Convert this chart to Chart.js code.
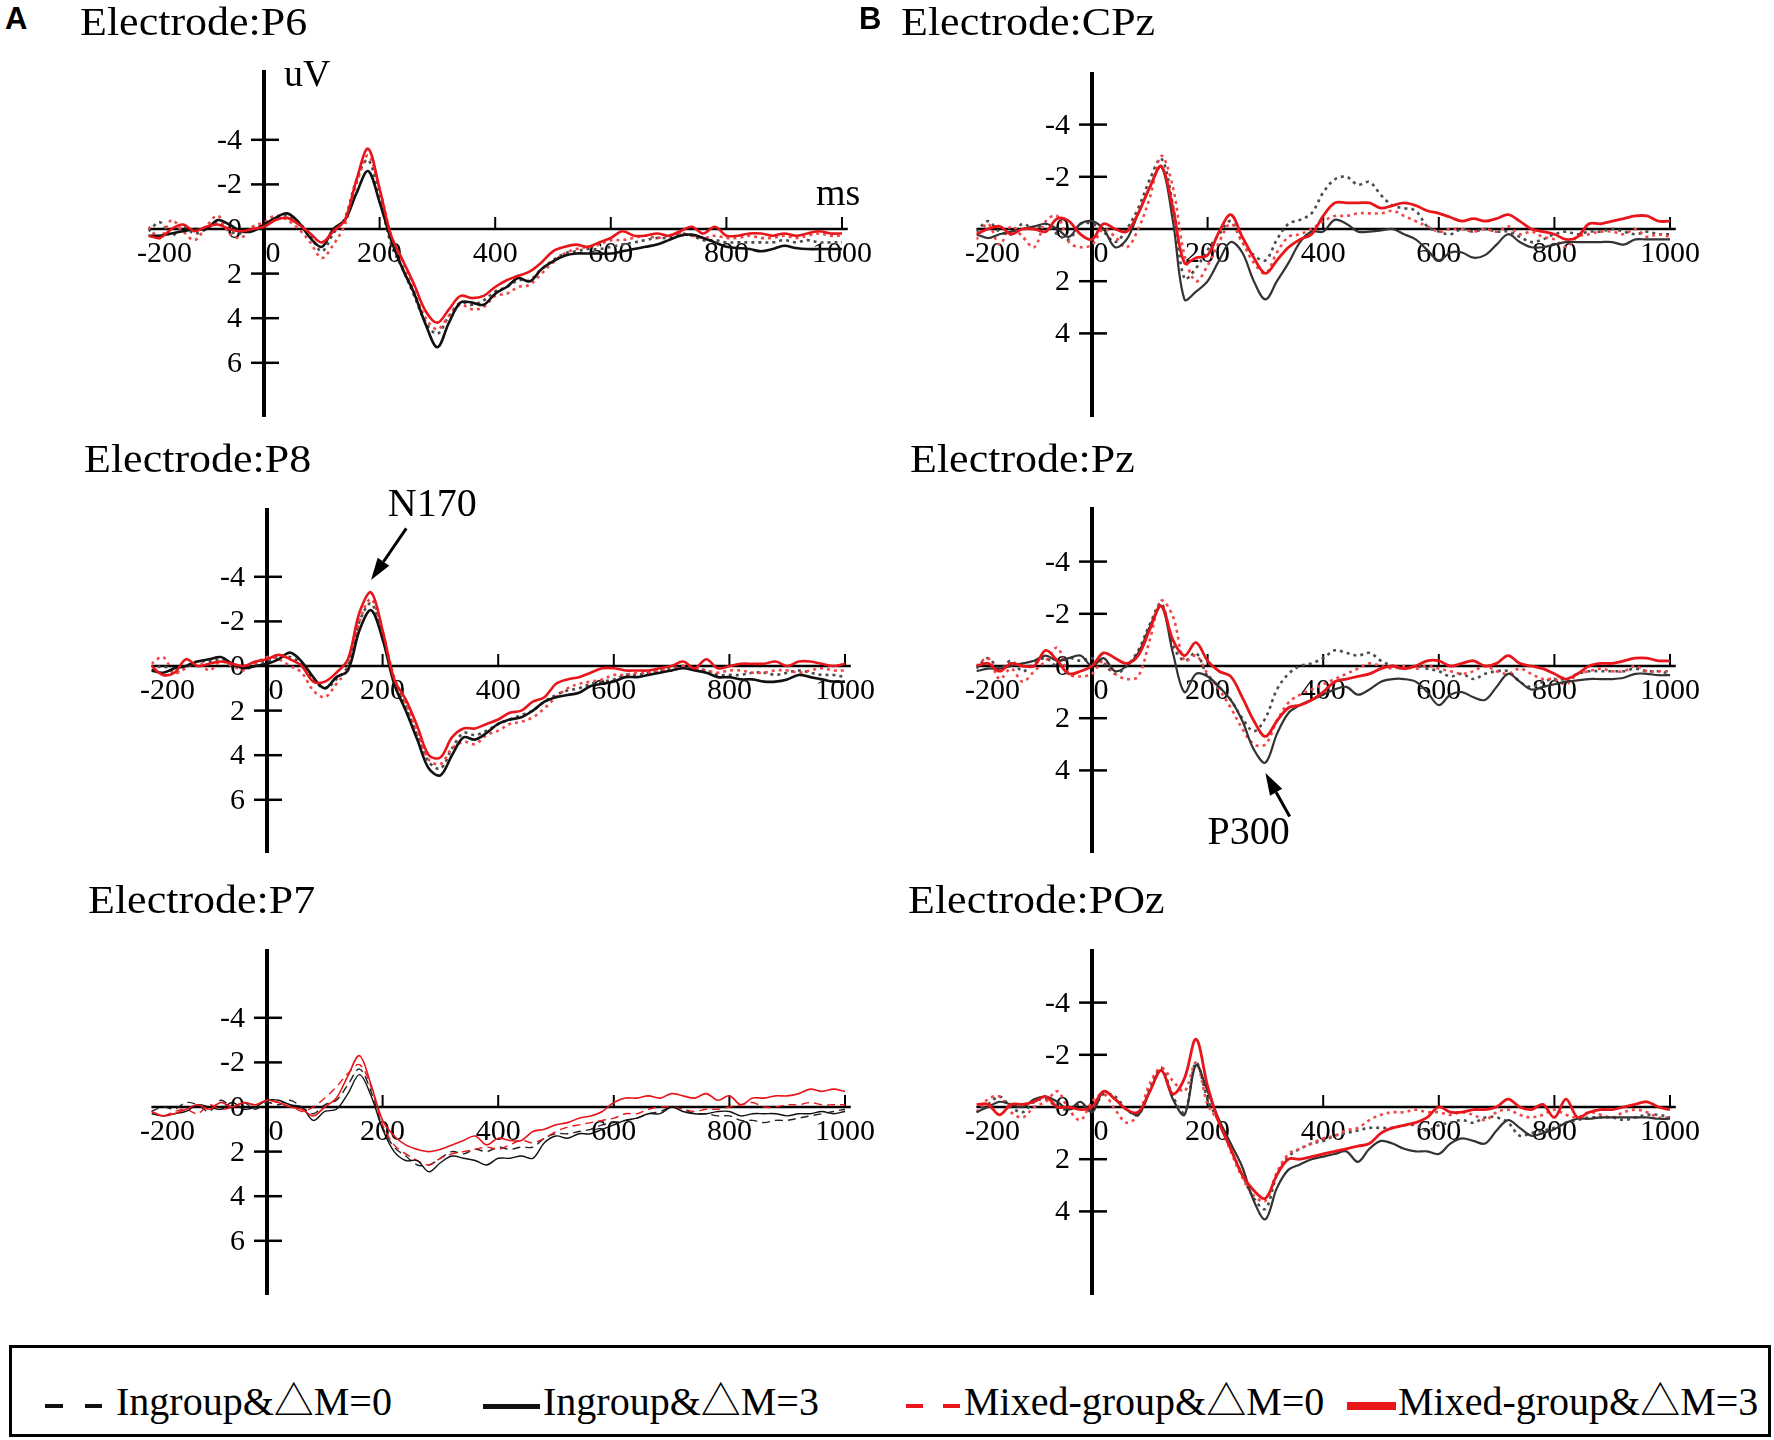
<!DOCTYPE html>
<html>
<head>
<meta charset="utf-8">
<script src="https://cdn.jsdelivr.net/npm/chart.js@4.4.0/dist/chart.umd.min.js"></script>
<style>
  html, body { margin: 0; padding: 0; background: #fff; }
  #page { position: relative; width: 1774px; height: 1440px; overflow: hidden; background: #fff; }
  #page canvas { position: absolute; }
  .title { position: absolute; font-family: "Liberation Serif", serif; font-size: 40px; line-height: 40px;
           white-space: nowrap; transform: scaleX(1.1); transform-origin: 0 0; color: #000; z-index: 2; }
  .tag { position: absolute; font-family: "Liberation Sans", Arial, sans-serif; font-weight: bold;
         font-size: 31px; line-height: 31px; color: #000; z-index: 2; }
  #legend { position: absolute; left: 9px; top: 1345px; width: 1762px; height: 92px;
            border: 3px solid #000; box-sizing: border-box; }
  .lg-text { position: absolute; font-family: "Liberation Serif", "Noto Sans CJK SC", serif;
             font-size: 40px; line-height: 40px; white-space: nowrap; color: #000; }
  .lg-seg { position: absolute; }
</style>
</head>
<body>
<div id="page">
  <div class="tag" style="left:5px;top:3px">A</div>
  <div class="tag" style="left:859px;top:3px">B</div>
  <div id="legend"></div>
</div>
<script>
'use strict'

// time axis (ms), one sample every 20 ms
const times = [-200, -180, -160, -140, -120, -100, -80, -60, -40, -20,
  0, 20, 40, 60, 80, 100, 120, 140, 160, 180,
  200, 220, 240, 260, 280, 300, 320, 340, 360, 380,
  400, 420, 440, 460, 480, 500, 520, 540, 560, 580,
  600, 620, 640, 660, 680, 700, 720, 740, 760, 780,
  800, 820, 840, 860, 880, 900, 920, 940, 960, 980, 1000];

const seriesNames = ['Ingroup&\u25B3M=0', 'Ingroup&\u25B3M=3', 'Mixed-group&\u25B3M=0', 'Mixed-group&\u25B3M=3'];
const xTickLabels = [-200, 0, 200, 400, 600, 800, 1000];
const yTicksA = [-4, -2, 0, 2, 4, 6];
const yTicksB = [-4, -2, 0, 2, 4];

// Electrode P6 (uV)
const p6In0 = [0.1, -0.3, 0.3, -0.1, 0.2, 0.0, -0.3, 0.1, 0.2, 0.0,
  -0.2, -0.5, -0.6, -0.3, 0.3, 1.0, 0.2, -0.5, -2.2, -3.1,
  -1.4, 0.7, 1.8, 3.0, 4.2, 4.7, 3.9, 3.3, 3.4, 3.2,
  2.8, 2.6, 2.3, 2.3, 1.8, 1.4, 1.1, 1.0, 0.9, 0.9,
  0.8, 0.7, 0.6, 0.5, 0.4, 0.4, 0.2, 0.3, 0.5, 0.5,
  0.6, 0.6, 0.6, 0.6, 0.6, 0.5, 0.6, 0.5, 0.6, 0.6, 0.6];
const p6In3 = [0.3, 0.3, 0.2, 0.1, 0.0, 0.0, -0.4, -0.2, 0.1, 0.1,
  -0.2, -0.5, -0.7, -0.3, 0.4, 0.8, 0.0, -0.4, -1.6, -2.6,
  -1.2, 0.5, 1.8, 2.9, 4.3, 5.3, 4.2, 3.3, 3.3, 3.4,
  2.9, 2.6, 2.2, 2.35, 1.8, 1.45, 1.2, 1.1, 1.1, 1.1,
  1.1, 1.0, 0.9, 0.8, 0.7, 0.5, 0.3, 0.25, 0.4, 0.6,
  0.8, 0.85, 0.9, 1.0, 0.9, 0.75, 0.85, 0.9, 0.9, 0.9, 0.9];
const p6Mix0 = [-0.1, 0.4, -0.4, 0.1, 0.5, -0.1, -0.6, 0.2, 0.4, -0.1,
  -0.3, -0.6, -0.4, 0.0, 0.6, 1.3, 0.7, -0.2, -2.0, -3.3,
  -1.8, 0.3, 1.5, 2.8, 4.0, 4.5, 3.9, 3.4, 3.6, 3.5,
  3.0, 2.9, 2.6, 2.5, 2.0, 1.5, 1.1, 0.9, 0.8, 0.7,
  0.5, 0.5, 0.4, 0.3, 0.4, 0.3, 0.2, 0.3, 0.4, 0.3,
  0.4, 0.4, 0.3, 0.4, 0.4, 0.3, 0.4, 0.3, 0.2, 0.3, 0.3];
const p6Mix3 = [0.3, 0.4, 0.0, -0.2, 0.1, -0.1, -0.2, 0.0, 0.1, 0.0,
  -0.1, -0.4, -0.5, -0.2, 0.2, 0.6, 0.1, -0.4, -2.2, -3.6,
  -1.8, 0.3, 1.4, 2.5, 3.7, 4.2, 3.6, 3.0, 3.1, 3.0,
  2.6, 2.3, 2.1, 1.9, 1.5, 1.0, 0.8, 0.7, 0.8, 0.6,
  0.4, 0.1, 0.3, 0.3, 0.2, 0.3, 0.1, -0.1, 0.2, -0.1,
  0.3, 0.3, 0.2, 0.2, 0.3, 0.2, 0.3, 0.2, 0.1, 0.2, 0.2];

// Electrode P8
const p8In0 = [0.2, 0.0, 0.3, 0.0, -0.2, -0.2, -0.3, 0.0, 0.1, -0.1,
  -0.2, -0.4, -0.4, -0.1, 0.6, 1.0, 0.6, 0.0, -2.0, -2.8,
  -1.4, 0.6, 1.8, 3.1, 4.3, 4.6, 3.7, 3.0, 3.1, 2.9,
  2.6, 2.4, 2.2, 2.0, 1.6, 1.3, 1.1, 1.0, 0.8, 0.7,
  0.6, 0.4, 0.4, 0.3, 0.2, 0.1, 0.0, 0.1, 0.2, 0.4,
  0.4, 0.4, 0.3, 0.3, 0.4, 0.3, 0.2, 0.3, 0.4, 0.4, 0.5];
const p8In3 = [0.2, 0.3, 0.1, 0.0, -0.2, -0.3, -0.4, -0.1, 0.1, 0.0,
  -0.1, -0.3, -0.6, -0.2, 0.5, 1.0, 0.5, 0.2, -1.6, -2.5,
  -1.2, 0.8, 2.0, 3.3, 4.6, 4.9, 4.0, 3.2, 3.3, 3.0,
  2.6, 2.4, 2.3, 2.0, 1.6, 1.4, 1.3, 1.2, 0.9, 0.8,
  0.7, 0.5, 0.5, 0.4, 0.3, 0.2, 0.1, 0.2, 0.3, 0.5,
  0.5, 0.6, 0.6, 0.7, 0.7, 0.6, 0.4, 0.5, 0.6, 0.7, 0.7];
const p8Mix0 = [-0.1, -0.4, 0.3, 0.1, -0.2, 0.2, -0.2, 0.0, 0.2, -0.1,
  -0.4, -0.3, 0.0, 0.3, 1.1, 1.4, 0.8, 0.1, -2.0, -3.0,
  -1.5, 0.5, 1.7, 3.0, 4.2, 4.4, 3.7, 3.4, 3.5, 3.1,
  2.9, 2.6, 2.5, 2.3, 1.9, 1.4, 1.0, 0.8, 0.7, 0.6,
  0.4, 0.4, 0.3, 0.3, 0.2, 0.2, 0.0, 0.1, 0.2, 0.3,
  0.2, 0.2, 0.3, 0.3, 0.2, 0.2, 0.3, 0.2, 0.1, 0.2, 0.2];
const p8Mix3 = [0.0, 0.4, 0.3, -0.3, 0.0, -0.1, -0.2, -0.1, 0.0, -0.2,
  -0.3, -0.5, -0.3, 0.0, 0.7, 0.7, 0.3, -0.3, -2.4, -3.3,
  -1.6, 0.6, 1.5, 2.7, 4.0, 4.1, 3.2, 2.8, 2.8, 2.6,
  2.4, 2.1, 2.0, 1.6, 1.4, 0.8, 0.6, 0.5, 0.3, 0.1,
  0.1, 0.2, 0.2, 0.2, 0.1, 0.0, -0.2, 0.1, -0.3, 0.1,
  0.0, -0.1, -0.1, -0.1, -0.2, 0.0, -0.2, -0.2, -0.1, 0.0, -0.1];

// Electrode P7
const p7In0 = [0.2, 0.0, 0.1, -0.2, -0.1, 0.2, -0.3, 0.0, -0.2, 0.1,
  -0.2, -0.1, -0.3, 0.0, 0.3, -0.1, -0.3, -1.0, -1.7, -0.7,
  0.9, 1.8, 2.2, 2.6, 2.6, 2.3, 2.0, 2.1, 1.9, 2.0,
  1.8, 1.9, 1.8, 1.8, 1.4, 1.2, 1.2, 1.1, 1.0, 0.8,
  0.7, 0.6, 0.5, 0.3, 0.2, 0.0, 0.1, 0.3, 0.3, 0.4,
  0.4, 0.6, 0.6, 0.7, 0.6, 0.6, 0.5, 0.4, 0.3, 0.2, 0.1];
const p7In3 = [0.3, 0.4, 0.3, 0.2, -0.1, 0.0, 0.1, -0.2, 0.1, 0.0,
  -0.3, -0.3, -0.1, 0.0, 0.6, 0.2, 0.1, -0.6, -1.45, -0.5,
  1.0, 2.0, 2.4, 2.4, 2.9, 2.5, 2.2, 2.3, 2.4, 2.6,
  2.3, 2.3, 2.2, 2.3, 1.6, 1.3, 1.4, 1.2, 1.2, 1.0,
  0.8, 0.6, 0.5, 0.3, 0.3, 0.0, 0.2, 0.3, 0.3, 0.2,
  0.2, 0.4, 0.3, 0.3, 0.3, 0.4, 0.3, 0.3, 0.2, 0.3, 0.2];
const p7Mix0 = [0.2, 0.4, 0.2, 0.1, 0.3, -0.1, 0.1, 0.0, -0.2, -0.1,
  -0.3, -0.2, -0.1, 0.2, 0.0, -0.4, -0.9, -1.5, -1.9, -0.9,
  0.8, 1.7, 2.1, 2.4, 2.6, 2.3, 2.1, 2.0, 1.9, 1.8,
  1.9, 1.7, 1.5, 1.6, 1.4, 1.1, 0.9, 0.8, 0.7, 0.6,
  0.5, 0.3, 0.3, 0.1, 0.0, 0.0, 0.1, 0.2, 0.1, 0.1,
  0.0, -0.1, -0.2, 0.0, 0.0, -0.1, -0.1, -0.2, -0.1, -0.1, -0.1];
const p7Mix3 = [0.2, 0.4, 0.3, 0.1, -0.1, 0.1, -0.2, 0.0, -0.2, -0.1,
  -0.3, -0.2, 0.0, 0.1, 0.4, 0.0, -0.4, -1.4, -2.3, -1.0,
  0.6, 1.3, 1.7, 1.9, 2.0, 1.9, 1.7, 1.5, 1.3, 1.7,
  1.4, 1.5, 1.5, 1.1, 1.0, 0.8, 0.7, 0.5, 0.4, 0.2,
  -0.2, -0.4, -0.4, -0.5, -0.4, -0.6, -0.5, -0.4, -0.6, -0.3,
  -0.5, -0.1, -0.4, -0.4, -0.5, -0.5, -0.6, -0.8, -0.7, -0.8, -0.7];

// Electrode CPz
const cpzIn0 = [0.1, -0.3, 0.1, 0.2, -0.2, 0.0, -0.2, 0.2, 0.4, -0.2,
  -0.2, 0.1, 0.5, 0.0, -0.8, -1.9, -2.7, -0.9, 1.9, 1.5,
  0.8, 0.2, -0.3, 0.5, 1.0, 1.2, 0.4, -0.2, -0.35, -0.6,
  -1.4, -1.9, -2.0, -1.7, -1.8, -1.3, -0.9, -0.8, -0.7, -0.1,
  0.1, 0.2, 0.0, 0.1, 0.0, 0.1, 0.1, 0.3, 0.5, 0.4,
  0.2, 0.1, 0.2, 0.1, 0.1, 0.0, 0.1, 0.2, 0.1, 0.2, 0.2];
const cpzIn3 = [0.2, 0.35, 0.2, 0.1, 0.0, -0.1, -0.2, 0.0, 0.3, -0.2,
  -0.3, 0.0, 0.7, 0.4, -0.6, -1.6, -2.4, -0.3, 2.7, 2.4,
  2.0, 1.2, 0.5, 0.9, 2.0, 2.7, 2.0, 1.3, 0.5, 0.1,
  0.1, -0.35, -0.2, 0.1, 0.1, 0.05, 0.0, 0.2, 0.4, 0.8,
  1.2, 0.9, 0.9, 1.1, 1.0, 0.6, 0.2, 0.5, 0.7, 0.7,
  0.6, 0.5, 0.5, 0.5, 0.5, 0.5, 0.6, 0.4, 0.4, 0.4, 0.4];
const cpzMix0 = [0.4, -0.2, 0.6, -0.1, 0.3, 0.7, -0.3, -0.5, 0.5, 0.7,
  0.6, 0.0, 0.3, 0.7, 0.0, -1.2, -2.8, -1.6, 1.0, 2.0,
  1.4, 0.5, -0.2, 0.5, 1.3, 1.7, 0.9, 0.3, 0.2, 0.0,
  -0.3, -0.5, -0.5, -0.6, -0.6, -0.6, -0.7, -0.5, -0.3, -0.1,
  0.1, 0.0, 0.0, 0.1, 0.0, 0.1, -0.1, 0.2, 0.1, 0.3,
  0.4, 0.7, 0.3, 0.2, 0.1, 0.1, 0.2, 0.0, 0.3, 0.2, 0.3];
const cpzMix3 = [0.2, 0.0, -0.1, 0.2, 0.0, 0.0, 0.1, -0.4, -0.3, 0.2,
  0.4, -0.2, 0.0, 0.1, -0.6, -1.6, -2.4, -0.8, 1.3, 1.1,
  1.0, 0.1, -0.55, 0.3, 1.1, 1.7, 1.2, 0.7, 0.4, 0.2,
  -0.5, -1.0, -1.0, -1.0, -1.0, -0.8, -0.9, -1.0, -0.9, -0.7,
  -0.6, -0.45, -0.3, -0.4, -0.3, -0.4, -0.55, -0.3, 0.0, 0.1,
  0.2, 0.4, 0.3, -0.2, -0.2, -0.3, -0.4, -0.5, -0.5, -0.3, -0.3];

// Electrode Pz
const pzIn0 = [0.1, -0.3, 0.1, -0.2, 0.2, -0.1, -0.3, 0.0, -0.3, -0.2,
  -0.3, -0.1, 0.3, 0.0, -0.6, -1.6, -2.4, -0.8, -0.2, -0.5,
  0.4, 0.8, 1.3, 2.0, 2.5, 2.0, 0.9, 0.3, 0.0, -0.1,
  -0.3, -0.6, -0.5, -0.4, -0.5, -0.2, 0.0, 0.1, 0.0, 0.1,
  0.2, 0.4, 0.3, 0.5, 0.3, 0.2, 0.2, 0.6, 0.8, 0.6,
  0.5, 0.5, 0.3, 0.2, 0.2, 0.2, 0.2, 0.1, 0.2, 0.2, 0.3];
const pzIn3 = [0.2, 0.1, 0.1, 0.0, -0.1, -0.2, -0.4, -0.2, -0.3, -0.4,
  0.0, -0.3, 0.2, 0.0, -0.5, -1.5, -2.3, -0.5, 1.0, 0.3,
  0.4, 0.8, 1.3, 2.1, 3.2, 3.7, 2.6, 1.8, 1.5, 1.3,
  1.1, 0.9, 0.8, 1.1, 0.9, 0.6, 0.5, 0.5, 0.6, 1.0,
  1.5, 1.1, 1.0, 1.2, 1.3, 0.8, 0.3, 0.6, 0.9, 0.8,
  0.7, 0.6, 0.55, 0.5, 0.5, 0.5, 0.45, 0.3, 0.3, 0.35, 0.35];
const pzMix0 = [0.0, -0.3, 0.5, 0.1, 0.6, 0.2, -0.2, -0.7, 0.3, 0.4,
  0.3, -0.2, 0.3, 0.5, 0.4, -1.0, -2.5, -1.9, -0.2, -0.4,
  0.3, 0.9, 1.6, 2.4, 3.0, 3.0, 2.1, 1.4, 1.1, 0.9,
  0.7, 0.5, 0.3, 0.1, -0.1, 0.0, 0.1, 0.0, 0.1, 0.0,
  0.1, 0.2, 0.3, 0.2, 0.0, 0.2, 0.3, 0.1, 0.3, 0.5,
  0.5, 0.7, 0.3, 0.2, 0.1, 0.2, 0.2, 0.0, 0.2, 0.2, 0.2];
const pzMix3 = [0.0, -0.1, 0.2, -0.1, 0.0, 0.0, -0.6, -0.2, 0.3, 0.2,
  0.0, -0.5, -0.3, -0.1, -0.4, -1.4, -2.3, -1.0, -0.4, -0.9,
  -0.2, 0.2, 0.4, 1.2, 2.1, 2.7, 2.1, 1.6, 1.5, 1.3,
  1.0, 0.6, 0.5, 0.4, 0.3, 0.1, 0.0, 0.1, 0.0, -0.2,
  -0.2, 0.0, -0.1, -0.2, 0.0, -0.1, -0.4, -0.1, 0.0, 0.1,
  0.3, 0.5, 0.3, 0.0, -0.1, -0.1, -0.2, -0.3, -0.3, -0.2, -0.2];

// Electrode POz
const pozIn0 = [0.2, -0.1, -0.4, 0.0, 0.2, -0.2, -0.3, 0.0, 0.1, -0.1,
  0.1, -0.5, -0.4, 0.1, 0.3, -0.7, -1.5, -0.4, 0.2, -1.7,
  -0.3, 0.6, 1.6, 2.6, 3.5, 3.9, 2.6, 1.9, 1.6, 1.4,
  1.3, 1.1, 1.0, 0.9, 0.8, 0.8, 0.8, 0.7, 0.7, 0.9,
  0.7, 0.6, 0.5, 0.6, 0.4, 0.4, 0.6, 1.1, 1.0, 0.9,
  0.8, 0.6, 0.5, 0.4, 0.4, 0.4, 0.5, 0.4, 0.3, 0.3, 0.4];
const pozIn3 = [0.2, 0.0, -0.2, -0.1, 0.0, -0.3, -0.4, -0.2, 0.1, -0.2,
  0.2, -0.6, -0.3, 0.1, 0.3, -0.6, -1.4, -0.3, 0.3, -1.6,
  -0.6, 0.5, 1.4, 2.3, 3.6, 4.3, 3.1, 2.4, 2.2, 2.0,
  1.9, 1.8, 1.7, 2.1, 1.6, 1.3, 1.4, 1.6, 1.7, 1.7,
  1.8, 1.4, 1.2, 1.3, 1.4, 0.9, 0.5, 0.8, 1.1, 1.0,
  0.85, 0.6, 0.45, 0.45, 0.4, 0.4, 0.4, 0.4, 0.4, 0.45, 0.45];
const pozMix0 = [0.2, -0.3, -0.4, 0.2, 0.4, 0.0, -0.2, -0.6, 0.1, 0.5,
  -0.2, -0.5, 0.1, 0.6, 0.3, -0.9, -1.5, -1.0, -0.6, -1.7,
  -0.1, 0.6, 1.7, 2.7, 3.4, 3.6, 2.5, 1.8, 1.6, 1.4,
  1.2, 1.1, 0.9, 0.8, 0.5, 0.3, 0.2, 0.2, 0.1, 0.2,
  0.2, 0.3, 0.2, 0.3, 0.5, 0.2, 0.1, 0.3, 0.4, 0.3,
  0.1, 0.3, 0.4, 0.2, 0.3, 0.4, 0.2, 0.1, 0.2, 0.4, 0.4];
const pozMix3 = [-0.1, -0.1, 0.3, -0.1, -0.1, -0.2, -0.4, 0.0, 0.0, 0.1,
  0.0, -0.6, -0.3, 0.1, 0.2, -0.6, -1.4, -0.5, -1.1, -2.6,
  -0.8, 0.6, 1.6, 2.6, 3.2, 3.5, 2.6, 2.0, 2.0, 1.9,
  1.8, 1.7, 1.6, 1.5, 1.4, 1.0, 0.8, 0.7, 0.6, 0.4,
  0.0, 0.2, 0.2, 0.1, 0.1, 0.0, -0.3, 0.0, 0.1, -0.1,
  0.4, -0.3, 0.4, 0.2, 0.1, 0.1, 0.0, -0.1, -0.2, 0.0, 0.1];

// ---- layout (page pixels) ----
const X_START = -200, X_END = 1010, PX_MS = 0.578;
const RED = '#e8161b';

const lineStyles = {
  bold: [
    { color: '#4d4d4d', width: 2.6, dash: [3, 4] },
    { color: '#111111', width: 2.6, dash: [] },
    { color: '#f04848', width: 2.6, dash: [3, 4] },
    { color: RED, width: 2.6, dash: [] }
  ],
  thin: [
    { color: '#222222', width: 1.4, dash: [8, 5] },
    { color: '#111111', width: 1.4, dash: [] },
    { color: RED, width: 1.4, dash: [8, 5] },
    { color: RED, width: 1.6, dash: [] }
  ],
  soft: [
    { color: '#4d4d4d', width: 2.6, dash: [3, 4] },
    { color: '#333333', width: 2.2, dash: [] },
    { color: '#f04848', width: 2.6, dash: [3, 4] },
    { color: RED, width: 2.8, dash: [] }
  ]
};

const panels = [
  { title: 'Electrode:P6', tx: 80, ty: 1.5, axisX: 264, zeroY: 229, top: 70, bottom: 417, pxUv: 22.3,
    yTicks: yTicksA, series: [p6In0, p6In3, p6Mix0, p6Mix3], style: 'bold', units: true },
  { title: 'Electrode:P8', tx: 84, ty: 438.5, axisX: 267, zeroY: 666, top: 508, bottom: 853, pxUv: 22.3,
    yTicks: yTicksA, series: [p8In0, p8In3, p8Mix0, p8Mix3], style: 'bold',
    note: { text: 'N170', at: [286, -6.73], tail: [241, -6.17], head: [180, -3.86] } },
  { title: 'Electrode:P7', tx: 88, ty: 879.5, axisX: 267, zeroY: 1107, top: 949, bottom: 1295, pxUv: 22.3,
    yTicks: yTicksA, series: [p7In0, p7In3, p7Mix0, p7Mix3], style: 'thin' },
  { title: 'Electrode:CPz', tx: 901, ty: 1.5, axisX: 1092, zeroY: 229, top: 72, bottom: 417, pxUv: 26.1,
    yTicks: yTicksB, series: [cpzIn0, cpzIn3, cpzMix0, cpzMix3], style: 'soft' },
  { title: 'Electrode:Pz', tx: 910, ty: 438.5, axisX: 1092, zeroY: 666, top: 507, bottom: 853, pxUv: 26.1,
    yTicks: yTicksB, series: [pzIn0, pzIn3, pzMix0, pzMix3], style: 'soft',
    note: { text: 'P300', at: [271, 6.82], tail: [342, 5.77], head: [300, 4.1] } },
  { title: 'Electrode:POz', tx: 908, ty: 879.5, axisX: 1092, zeroY: 1107, top: 949, bottom: 1295, pxUv: 26.1,
    yTicks: yTicksB, series: [pozIn0, pozIn3, pozMix0, pozMix3], style: 'soft' }
];

function seg(ctx, x1, y1, x2, y2) {
  ctx.beginPath();
  ctx.moveTo(x1, y1);
  ctx.lineTo(x2, y2);
  ctx.stroke();
}

// axes crossing at (0 ms, 0 uV), drawn from the chart's own scales
const erpAxes = {
  id: 'erpAxes',
  beforeDatasetsDraw(chart, args, o) {
    const { ctx, chartArea: a, scales: { x, y } } = chart;
    const x0 = x.getPixelForValue(0), y0 = y.getPixelForValue(0);
    ctx.save();
    ctx.strokeStyle = '#000';
    ctx.fillStyle = '#000';
    ctx.lineWidth = 4;
    seg(ctx, x0, a.top, x0, a.bottom);
    ctx.lineWidth = 2.5;
    seg(ctx, a.left, y0, a.right, y0);

    ctx.font = '30px "Liberation Serif"';
    ctx.textBaseline = 'alphabetic';
    ctx.textAlign = 'right';
    o.yTicks.forEach(v => {
      const py = y.getPixelForValue(v);
      if (v !== 0) seg(ctx, x0 - 13, py, x0 + 15, py);
      ctx.fillText(String(v), x0 - 22, py + 9);
    });
    ctx.lineWidth = 2;
    ctx.textAlign = 'center';
    xTickLabels.forEach(v => {
      const px = x.getPixelForValue(v);
      if (v > 0) seg(ctx, px, y0 - 12, px, y0);
      const shift = v === 0 ? 9 : (v < 0 ? 16 : 0);
      ctx.fillText(String(v), px + shift, y0 + 33);
    });

    if (o.units) {
      ctx.font = '38px "Liberation Serif"';
      ctx.textAlign = 'left';
      ctx.fillText('uV', x0 + 20, a.top + 16);
      ctx.fillText('ms', x.getPixelForValue(955), y0 - 24);
    }
    ctx.restore();
  },
  afterDatasetsDraw(chart, args, o) {
    if (!o.note) return;
    const { ctx, scales: { x, y } } = chart;
    const n = o.note;
    const tx = x.getPixelForValue(n.tail[0]), ty = y.getPixelForValue(n.tail[1]);
    const hx = x.getPixelForValue(n.head[0]), hy = y.getPixelForValue(n.head[1]);
    const ang = Math.atan2(hy - ty, hx - tx);
    const len = 22, half = 7;
    const bx = hx - len * Math.cos(ang), by = hy - len * Math.sin(ang);
    ctx.save();
    ctx.strokeStyle = '#000';
    ctx.fillStyle = '#000';
    ctx.lineWidth = 3;
    seg(ctx, tx, ty, bx, by);
    ctx.beginPath();
    ctx.moveTo(hx, hy);
    ctx.lineTo(bx + half * Math.sin(ang), by - half * Math.cos(ang));
    ctx.lineTo(bx - half * Math.sin(ang), by + half * Math.cos(ang));
    ctx.closePath();
    ctx.fill();
    ctx.font = '40px "Liberation Serif"';
    ctx.textAlign = 'center';
    ctx.textBaseline = 'alphabetic';
    ctx.fillText(n.text, x.getPixelForValue(n.at[0]), y.getPixelForValue(n.at[1]));
    ctx.restore();
  }
};

const page = document.getElementById('page');

function points(vals) {
  return times.map((t, i) => ({ x: t, y: vals[i] }));
}

panels.forEach(p => {
  const t = document.createElement('div');
  t.className = 'title';
  t.textContent = p.title;
  t.style.left = p.tx + 'px';
  t.style.top = p.ty + 'px';
  page.appendChild(t);

  const boxL = p.axisX - 170, boxT = p.top - 60, boxW = 820, boxH = p.bottom - p.top + 85;
  const c = document.createElement('canvas');
  c.width = boxW;
  c.height = boxH;
  c.style.left = boxL + 'px';
  c.style.top = boxT + 'px';
  c.style.width = boxW + 'px';
  c.style.height = boxH + 'px';
  page.appendChild(c);

  const areaL = p.axisX + X_START * PX_MS, areaR = p.axisX + X_END * PX_MS;
  const st = lineStyles[p.style];
  // draw order: in0 (back), mix0, in3, mix3 (front)
  const order = [3, 1, 2, 0];

  new Chart(c.getContext('2d'), {
    type: 'line',
    data: {
      datasets: p.series.map((vals, i) => ({
        label: seriesNames[i],
        data: points(vals),
        borderColor: st[i].color,
        borderWidth: st[i].width,
        borderDash: st[i].dash,
        pointRadius: 0,
        tension: 0.35,
        fill: false,
        order: order[i]
      }))
    },
    options: {
      responsive: false,
      animation: false,
      events: [],
      layout: {
        padding: {
          left: areaL - boxL,
          right: boxL + boxW - areaR,
          top: p.top - boxT,
          bottom: boxT + boxH - p.bottom
        }
      },
      scales: {
        x: { type: 'linear', min: X_START, max: X_END, display: false },
        y: { type: 'linear', reverse: true, display: false,
             min: -(p.zeroY - p.top) / p.pxUv, max: (p.bottom - p.zeroY) / p.pxUv }
      },
      plugins: {
        legend: { display: false },
        title: { display: false },
        tooltip: { enabled: false },
        erpAxes: { yTicks: p.yTicks, units: !!p.units, note: p.note || null }
      }
    },
    plugins: [erpAxes]
  });
});

// legend strip along the bottom
const legendItems = [
  { textX: 116, segs: [[45, 18], [85, 17]], color: '#111', thick: 4 },
  { textX: 543, segs: [[483, 57]], color: '#111', thick: 5 },
  { textX: 964, segs: [[906, 17], [943, 17]], color: RED, thick: 4 },
  { textX: 1398, segs: [[1347, 49]], color: RED, thick: 8 }
];
const legend = document.getElementById('legend');
const LX = 12, LY = 1348, MID = 1406;
legendItems.forEach((it, i) => {
  it.segs.forEach(s => {
    const d = document.createElement('div');
    d.className = 'lg-seg';
    d.style.left = (s[0] - LX) + 'px';
    d.style.width = s[1] + 'px';
    d.style.top = (MID - it.thick / 2 - LY) + 'px';
    d.style.height = it.thick + 'px';
    d.style.background = it.color;
    legend.appendChild(d);
  });
  const s = document.createElement('div');
  s.className = 'lg-text';
  s.textContent = seriesNames[i];
  s.style.left = (it.textX - LX) + 'px';
  s.style.top = (1415 - 33.5 - LY) + 'px';
  legend.appendChild(s);
});
</script>
</body>
</html>
